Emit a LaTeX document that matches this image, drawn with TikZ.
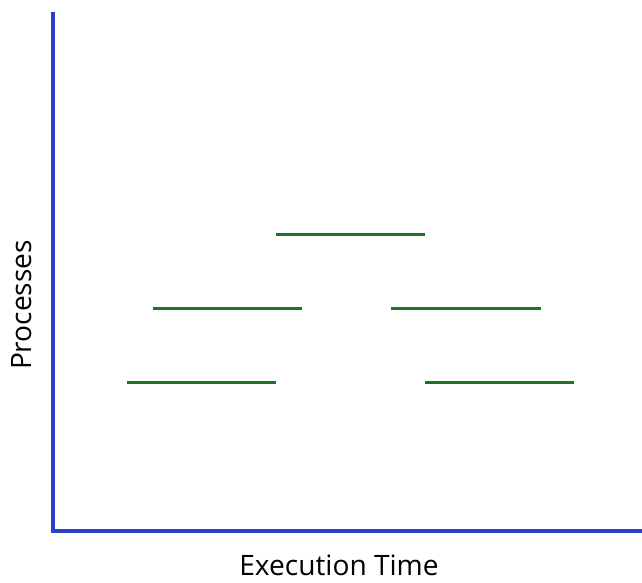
\documentclass[tikz,border=0pt]{standalone}
\usepackage{fontspec}
\setmainfont{Open Sans}
\usepackage{tikz}

\definecolor{axisblue}{RGB}{45,65,200}
\definecolor{taskgreen}{RGB}{30,115,35}
\tikzset{
  axis/.style={draw=axisblue, line width=1.8pt},
  task/.style={draw=taskgreen, line width=1.7pt},
  lbl/.style={font=\fontsize{16}{18}\selectfont, text=black}
}

\begin{document}
\begin{tikzpicture}[x=0.02cm,y=-0.02cm]
\useasboundingbox (0,0) rectangle (642,582);
%% axes
\coordinate (top) at (53,12);
\coordinate (origin) at (53,531);
\coordinate (right) at (642,531);
\draw[axis] (top) -- (origin) -- (right);
\node[lbl, rotate=90] (ylab) at (22,305) {Processes};
\node[lbl] (xlab) at (339,565) {Execution Time};
%% nodes
\coordinate (T1a) at (276,234);
\coordinate (T1b) at (425,234);
\coordinate (T2a) at (153,308);
\coordinate (T2b) at (302,308);
\coordinate (T3a) at (391,308);
\coordinate (T3b) at (541,308);
\coordinate (T4a) at (127,382);
\coordinate (T4b) at (276,382);
\coordinate (T5a) at (425,382);
\coordinate (T5b) at (574,382);
%%% edges
\draw[task] (T1a) -- (T1b);
\draw[task] (T2a) -- (T2b);
\draw[task] (T3a) -- (T3b);
\draw[task] (T4a) -- (T4b);
\draw[task] (T5a) -- (T5b);
\end{tikzpicture}
\end{document}
